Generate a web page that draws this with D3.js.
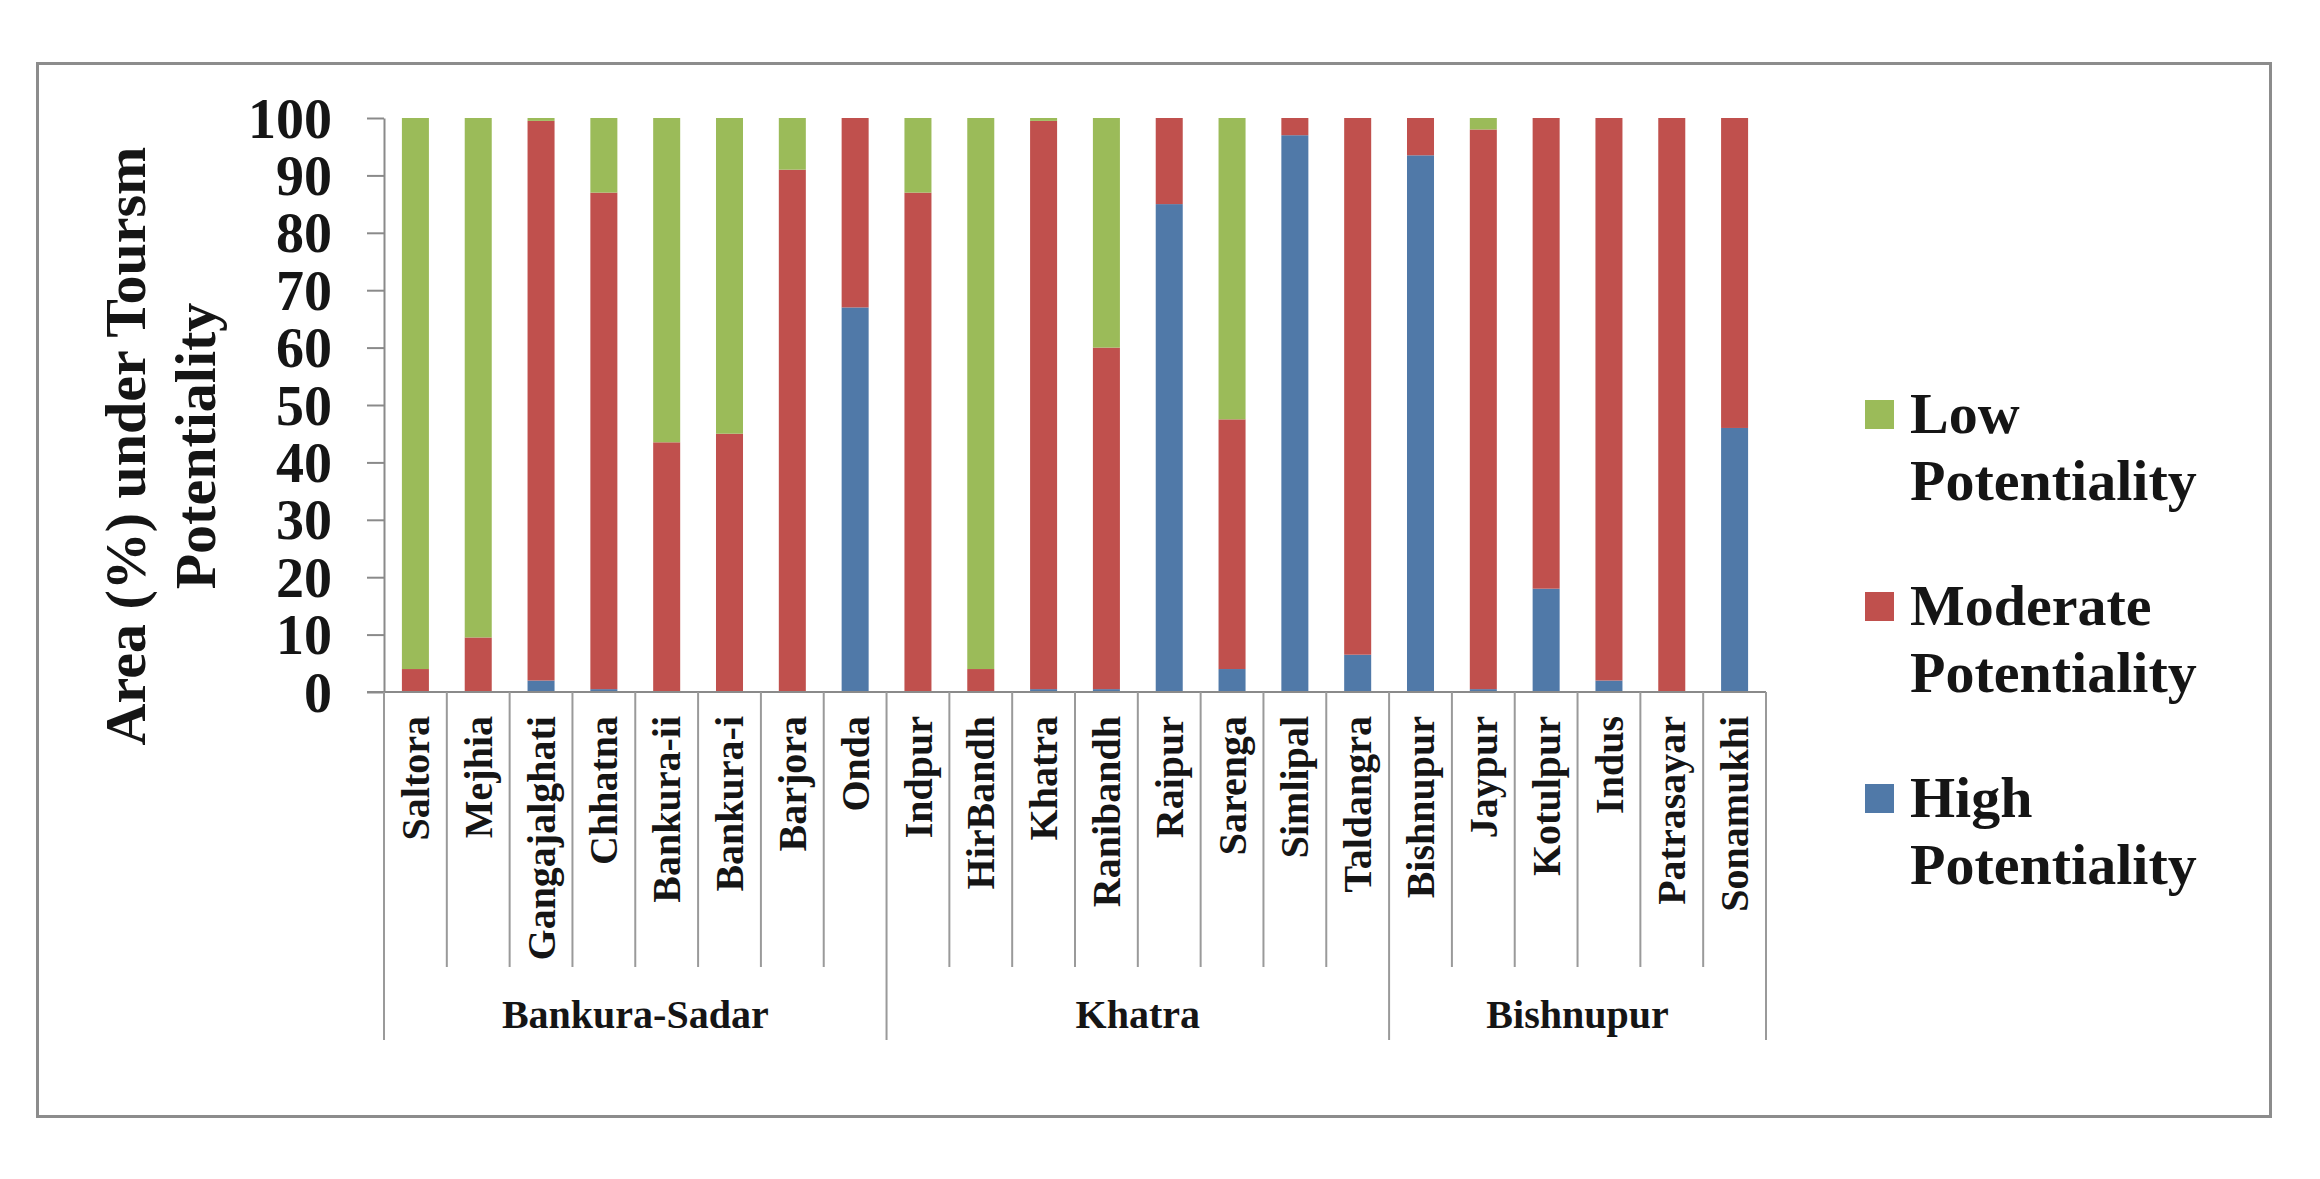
<!DOCTYPE html>
<html>
<head>
<meta charset="utf-8">
<script src="https://cdn.jsdelivr.net/npm/d3@7"></script>
<style>
  body { margin: 0; background: #fff; }
  text { font-family: "Liberation Serif", "Times New Roman", serif; font-weight: bold; fill: #151515; }
</style>
</head>
<body>
<svg id="chart"></svg>
<script>
// Blocks (categories) and their subdivisions
const categories = ["Saltora", "Mejhia", "Gangajalghati", "Chhatna", "Bankura-ii", "Bankura-i", "Barjora", "Onda",
                    "Indpur", "HirBandh", "Khatra", "Ranibandh", "Raipur", "Sarenga", "Simlipal", "Taldangra",
                    "Bishnupur", "Jaypur", "Kotulpur", "Indus", "Patrasayar", "Sonamukhi"];
const groups = ["Bankura-Sadar", "Khatra", "Bishnupur"];
const groupSizes = [8, 8, 6];

// Area (%) per potentiality class
const high     = [0, 0, 2, 0.5, 0, 0, 0, 67,   0, 0, 0.5, 0.5, 85, 4, 97, 6.5,   93.5, 0.5, 18, 2, 0, 46];
const moderate = [4, 9.5, 97.5, 86.5, 43.5, 45, 91, 33,   87, 4, 99, 59.5, 15, 43.5, 3, 93.5,   6.5, 97.5, 82, 98, 100, 54];
const low      = [96, 90.5, 0.5, 13, 56.5, 55, 9, 0,   13, 96, 0.5, 40, 0, 52.5, 0, 0,   0, 2, 0, 0, 0, 0];

const seriesKeys = ["high", "moderate", "low"];
const seriesNames = ["High Potentiality", "Moderate Potentiality", "Low Potentiality"];
const seriesColors = ["#5079A8", "#C0504D", "#9BBB59"];
const yTicks = [0, 10, 20, 30, 40, 50, 60, 70, 80, 90, 100];

const width = 2320, height = 1179;
const svg = d3.select("#chart").attr("width", width).attr("height", height);

// outer frame
svg.append("rect")
   .attr("x", 37.5).attr("y", 63.5)
   .attr("width", 2233).attr("height", 1053)
   .attr("fill", "#fff")
   .attr("stroke", "#8c8c8c")
   .attr("stroke-width", 3);

const rows = categories.map((c, i) => ({ cat: c, high: high[i], moderate: moderate[i], low: low[i] }));
const stacked = d3.stack().keys(seriesKeys)(rows);

// scales
const xScale = d3.scaleBand()
                 .domain(categories)
                 .range([384, 1766])
                 .paddingInner(0.57)
                 .paddingOuter(0.285);

const yScale = d3.scaleLinear()
                 .domain([0, 100])
                 .range([692, 118]);

// bars
stacked.forEach((layer, k) => {
    svg.append("g")
       .attr("fill", seriesColors[k])
       .selectAll("rect")
       .data(layer)
       .join("rect")
       .attr("x", d => xScale(d.data.cat))
       .attr("width", xScale.bandwidth())
       .attr("y", d => yScale(d[1]))
       .attr("height", d => yScale(d[0]) - yScale(d[1]));
});

// y axis
const yAxis = svg.append("g")
   .attr("transform", "translate(384,0)")
   .call(d3.axisLeft(yScale).tickValues(yTicks).tickSize(17).tickSizeOuter(0).tickPadding(35));
yAxis.select(".domain").attr("stroke", "#8a8a8a").attr("stroke-width", 2);
yAxis.selectAll(".tick line").attr("stroke", "#8a8a8a").attr("stroke-width", 2);
yAxis.selectAll(".tick text")
     .attr("dy", "0.34em")
     .style("font-size", "56px");

// x axis baseline
svg.append("line")
   .attr("x1", 367).attr("x2", 1766)
   .attr("y1", 692).attr("y2", 692)
   .attr("stroke", "#8a8a8a")
   .attr("stroke-width", 2);

// category dividers and group dividers
const step = xScale.step();
const x0 = xScale.range()[0];
const groupEdges = [0];
groupSizes.forEach(s => groupEdges.push(groupEdges[groupEdges.length - 1] + s));
for (let i = 0; i <= categories.length; i++) {
    const isGroup = groupEdges.includes(i);
    svg.append("line")
       .attr("x1", x0 + i * step).attr("x2", x0 + i * step)
       .attr("y1", 692).attr("y2", isGroup ? 1040 : 967)
       .attr("stroke", "#9a9a9a")
       .attr("stroke-width", 2);
}

// category labels (rotated)
const xAxis = svg.append("g")
   .attr("transform", "translate(0,692)")
   .call(d3.axisBottom(xScale).tickSize(0));
xAxis.select(".domain").remove();
xAxis.selectAll(".tick text")
     .attr("transform", "rotate(-90)")
     .attr("x", -24)
     .attr("y", 0)
     .attr("dy", "0.34em")
     .attr("text-anchor", "end")
     .style("font-size", "40px");

// group labels
groups.forEach((g, i) => {
    const cx = x0 + (groupEdges[i] + groupEdges[i + 1]) / 2 * step;
    svg.append("text")
       .attr("x", cx)
       .attr("y", 1028)
       .attr("text-anchor", "middle")
       .style("font-size", "40px")
       .text(g);
});

// y axis title, two lines
[["Area (%) under Toursm", 145], ["Potentiality", 215]].forEach(([t, bx]) => {
    svg.append("text")
       .attr("transform", `translate(${bx},446) rotate(-90)`)
       .attr("text-anchor", "middle")
       .style("font-size", "58px")
       .text(t);
});

// legend (Low on top)
const legendOrder = [2, 1, 0];
const legendBase = [433, 625, 817];
legendOrder.forEach((k, j) => {
    const by = legendBase[j];
    svg.append("rect")
       .attr("x", 1865).attr("y", by - 33)
       .attr("width", 29).attr("height", 29)
       .attr("fill", seriesColors[k]);
    const words = seriesNames[k].split(" ");
    svg.append("text")
       .attr("x", 1910).attr("y", by)
       .style("font-size", "58px")
       .text(words[0]);
    svg.append("text")
       .attr("x", 1910).attr("y", by + 67)
       .style("font-size", "58px")
       .text(words[1]);
});
</script>
</body>
</html>
